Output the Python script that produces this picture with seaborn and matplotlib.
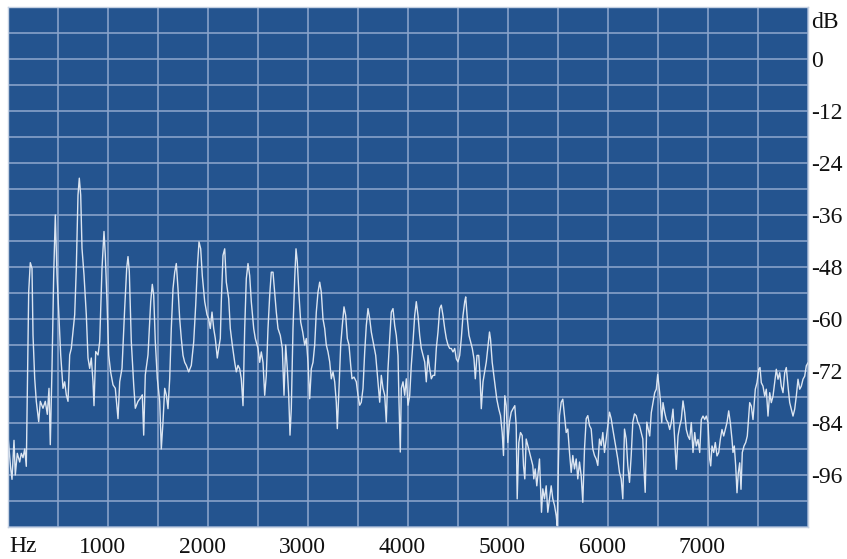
import numpy as np
import pandas as pd
import seaborn as sns
import matplotlib.pyplot as plt
from matplotlib.transforms import ScaledTranslation

# spectrum trace, split into bands (Hz, dB)
hz_band1 = [0, 27, 40, 60, 73, 93, 117, 133, 150, 167,
            183, 193, 207, 223, 240, 250, 267, 283, 307, 323,
            350, 373, 393, 410, 423, 440, 457, 473, 490, 507,
            527, 550, 567, 583, 600, 617, 633, 667, 683, 700,
            713, 727, 740, 760, 783, 800, 817, 833, 850, 860,
            877, 900, 917, 940, 960, 973, 990, 1007, 1027, 1050,
            1073, 1100, 1117, 1140, 1167, 1187, 1200, 1213, 1233, 1257,
            1273, 1300, 1323, 1343, 1357, 1373, 1400, 1427, 1443, 1457,
            1473, 1493, 1517, 1533, 1550, 1567, 1583]
db_band1 = [-87, -94.5, -97, -88, -96, -91, -93, -91, -92, -90,
            -94, -77.5, -53.7, -47, -48.3, -63.7, -73.7, -79, -83.7, -79,
            -80.6, -79, -82, -76, -89, -71.4, -49.8, -36, -49.8, -58.3,
            -68.3, -76, -74.5, -77.5, -79, -68.3, -66.8, -59, -48.3, -31.4,
            -27.5, -31.4, -43.7, -49.8, -59, -69, -71.4, -69, -74.5, -80,
            -67.5, -68.3, -65.2, -48.3, -39.8, -45.2, -56, -68.3, -72.3, -75.2,
            -76, -83, -74.5, -71.4, -57.5, -48.3, -45.6, -49, -65.2, -75.2,
            -80.6, -79, -78.3, -77.5, -86.8, -72.9, -68.3, -56, -52, -54.5,
            -65.2, -73.7, -79, -90, -83.7, -76, -77.5]

hz_band2 = [1600, 1617, 1633, 1650, 1667, 1683, 1700, 1717, 1733, 1750,
            1767, 1783, 1807, 1833, 1857, 1877, 1893, 1910, 1927, 1943,
            1967, 1990, 2007, 2023, 2040, 2057, 2073, 2093, 2107, 2123,
            2133, 2150, 2167, 2183, 2207, 2223, 2243, 2267, 2283, 2300,
            2317, 2333, 2350, 2367, 2383, 2400, 2417, 2433, 2457, 2473,
            2500, 2517, 2533, 2550, 2567, 2583, 2600, 2617, 2633, 2650,
            2667, 2683, 2700, 2723, 2743, 2760, 2777, 2793, 2807, 2820,
            2833, 2850, 2867, 2880, 2893, 2910, 2927, 2947, 2967, 2983,
            3000, 3017, 3033, 3050, 3067, 3083, 3100, 3117, 3133, 3150,
            3167, 3183]
db_band2 = [-80.7, -73.8, -62.2, -53, -49.2, -47.2, -53, -60, -64.5, -68.4,
            -70, -70.7, -72.2, -70.7, -65.3, -56.8, -48.4, -42.2, -43.8, -50,
            -56, -59, -60, -62.2, -58.4, -62.2, -64.5, -69, -66.8, -64.5,
            -56, -45.3, -43.8, -51.5, -55.3, -62.2, -66, -70, -72.2, -70.7,
            -71.5, -73.8, -80, -62.2, -50.7, -47.2, -50, -56, -62.2, -64.5,
            -66.8, -70, -67.6, -70, -77.6, -73, -62.2, -54.5, -49.2, -49.2,
            -53.8, -58.4, -62.2, -63.8, -66.8, -77.6, -66, -71.5, -77.6, -86.8,
            -80.7, -62.2, -50.7, -43.8, -46.8, -54.5, -60.7, -63, -66, -64.5,
            -70, -78.4, -71.5, -70, -66, -58.4, -53.8, -51.5, -53.8, -60,
            -62.2, -66]

hz_band3 = [3200, 3217, 3233, 3250, 3267, 3283, 3293, 3310, 3327, 3343,
            3360, 3377, 3393, 3410, 3427, 3440, 3460, 3483, 3500, 3517,
            3533, 3550, 3567, 3583, 3600, 3617, 3633, 3657, 3677, 3700,
            3717, 3733, 3750, 3767, 3783, 3800, 3817, 3833, 3850, 3867,
            3883, 3900, 3910, 3923, 3933, 3950, 3967, 3983, 4000, 4017,
            4033, 4050, 4067, 4083, 4100, 4117, 4133, 4150, 4167, 4183,
            4200, 4217, 4233, 4250, 4267, 4283, 4300, 4317, 4333, 4350,
            4367, 4383, 4400, 4417, 4433, 4450, 4467, 4483, 4500, 4517,
            4533, 4550, 4567, 4577, 4593, 4610, 4627, 4643, 4660, 4673,
            4690, 4707, 4720, 4733, 4750, 4767, 4783]
db_band3 = [-67.6, -69.9, -73.8, -72.2, -74.5, -79.2, -85.3, -76, -66, -61.5,
            -57.2, -59.2, -64.5, -66, -70.7, -73.8, -73.4, -74.5, -77.6, -79.9,
            -79.2, -76, -67.6, -61.5, -57.6, -59.9, -63, -66, -68.4, -74.5,
            -79.2, -73, -76, -77.6, -83.8, -71.5, -64.5, -58.4, -57.6, -61.5,
            -63.8, -68.4, -79.2, -90.7, -76, -74.5, -77.6, -73.8, -79.9, -77.6,
            -70.7, -65.3, -59.2, -56, -59.2, -63.8, -66.8, -68.4, -69.9, -74.5,
            -68.4, -71.5, -73.8, -73, -73, -66.8, -63, -57.6, -56.8, -59.2,
            -62.2, -64.5, -66, -66.8, -66.8, -67.6, -66.8, -69.2, -69.9, -68.4,
            -64.5, -59.2, -56, -54.9, -59.9, -63.8, -65.3, -66.8, -69.2, -73.8,
            -68.4, -68.4, -73, -80.7, -74.5, -72.2, -69.9]

hz_band4 = [4815, 4825, 4842, 4858, 4875, 4888, 4908, 4925, 4942, 4955,
            4968, 4982, 4998, 5015, 5032, 5048, 5068, 5082, 5092, 5108,
            5125, 5142, 5155, 5168, 5182, 5198, 5215, 5232, 5248, 5258,
            5272, 5288, 5302, 5315, 5325, 5335, 5348, 5365, 5382, 5398,
            5415, 5432, 5448, 5465, 5482, 5492, 5505, 5515, 5532, 5548,
            5565, 5582, 5598, 5615, 5632, 5648, 5665, 5682, 5698, 5715,
            5732, 5748, 5765, 5782, 5798, 5815, 5832, 5848, 5865, 5882,
            5898, 5915, 5932, 5948, 5965, 5982, 5998, 6015, 6032, 6048,
            6065, 6082, 6098, 6115, 6132, 6148, 6165, 6182, 6198, 6215,
            6232, 6248, 6265, 6282, 6298, 6315, 6332, 6348, 6358, 6372,
            6388]
db_band4 = [-63, -64.6, -70, -73, -76.2, -78.5, -80.8, -82.3, -86.2, -91.5,
            -77.7, -80, -88.5, -83.8, -81.5, -80.8, -80, -84.6, -101.5, -88.5,
            -86.2, -86.9, -93.8, -96.9, -87.7, -89.2, -90.8, -92.3, -93.8, -96.9,
            -94.6, -98.5, -95.4, -92.3, -98.5, -104.6, -99.2, -101.5, -98.5, -104.6,
            -101.5, -98.5, -101.5, -103, -105.4, -107.7, -92.3, -82.3, -79.2, -78.5,
            -82.3, -86.2, -85.4, -90.8, -95.4, -91.5, -94.6, -92.3, -96.9, -93,
            -96.2, -102.3, -90, -83, -82.3, -84.6, -85.4, -90, -91.5, -92.3,
            -93.8, -87.7, -89.2, -86.2, -90.8, -87.7, -84.6, -81.5, -83, -85.4,
            -87.7, -90, -92.3, -95.4, -96.9, -101.5, -85.4, -87.7, -93.8, -97.7,
            -91.5, -83.8, -81.9, -82.3, -83.8, -84.6, -86.2, -87.7, -93.8, -100,
            -83.8]

hz_band5 = [6417, 6433, 6450, 6467, 6483, 6497, 6510, 6523, 6537, 6550,
            6567, 6583, 6600, 6617, 6633, 6650, 6667, 6683, 6700, 6717,
            6733, 6750, 6767, 6783, 6800, 6817, 6833, 6850, 6867, 6883,
            6900, 6917, 6933, 6950, 6967, 6983, 7000, 7017, 7027, 7040,
            7057, 7073, 7090, 7107, 7123, 7140, 7157, 7173, 7190, 7207,
            7223, 7240, 7250, 7263, 7277, 7290, 7303, 7317, 7330, 7343,
            7360, 7377, 7393, 7407, 7417, 7433, 7450, 7460, 7473, 7490,
            7507, 7520, 7533, 7550, 7567, 7583, 7600, 7617, 7633, 7650,
            7667, 7683, 7700, 7717, 7733, 7750, 7767, 7783, 7800, 7817,
            7833, 7850, 7867, 7883, 7900, 7917, 7933, 7950, 7967, 7983,
            8000]
db_band5 = [-87, -81.6, -79.3, -77, -76.2, -72.8, -75.5, -78.5, -83.9, -79.3,
            -81.6, -83.2, -83.9, -85.5, -83.9, -80.8, -87.8, -94.7, -87, -84.7,
            -83.2, -78.9, -81.6, -85.5, -87, -87.8, -83.9, -90.8, -86.2, -89.3,
            -87.8, -90.8, -83.2, -82.4, -83.2, -82.4, -83.9, -92.4, -93.9, -89.3,
            -90.8, -88.5, -91.6, -90.8, -87.8, -85.5, -87, -85.5, -83.9, -81.2,
            -83.9, -87.8, -90.8, -89.3, -93.9, -100.1, -95.5, -93.2, -99.3, -90.8,
            -89.3, -88.5, -87, -82.4, -79.3, -80.1, -83.2, -80.1, -76.2, -74.7,
            -71.6, -71.2, -74.7, -75.5, -77.8, -76.2, -82.4, -77, -79.3, -77.8,
            -74.7, -71.6, -73.9, -72.4, -75.5, -77, -72.4, -71.2, -75.5, -79.3,
            -80.8, -82.4, -80.8, -77.8, -73.9, -76.2, -75.5, -73.9, -73.2, -70.8,
            -70.1]

x_labels = ["1000", "2000", "3000", "4000", "5000", "6000", "7000"]
y_labels = ["dB", "0", "-12", "-24", "-36", "-48", "-60", "-72", "-84", "-96"]

hz = hz_band1 + hz_band2 + hz_band3 + hz_band4 + hz_band5
db = db_band1 + db_band2 + db_band3 + db_band4 + db_band5
assert len(hz) == len(db)
df = pd.DataFrame({"hz": hz, "db": db})

sns.set_theme(style="dark")
plt.rcParams["font.family"] = ["Liberation Serif", "DejaVu Serif"]

fig = plt.figure(figsize=(8.47, 5.59), dpi=100)
ax = fig.add_axes([8 / 847, 32 / 559, 800 / 847, 520 / 559])
ax.set_facecolor("#24548f")

sns.lineplot(data=df, x="hz", y="db", ax=ax, color="#dce5f1",
             linewidth=1.0, sort=False, estimator=None)

ax.set_xlim(0, 8000)
ax.set_ylim(-108, 12)

# grid every 500 Hz / 6 dB, keep minor lines under the labelled ticks too
ax.xaxis.remove_overlapping_locs = False
ax.yaxis.remove_overlapping_locs = False
ax.set_xticks(np.arange(0, 8001, 500), minor=True)
ax.set_yticks(np.arange(-108, 13, 6), minor=True)
ax.grid(which="minor", color="#87a2c9", linewidth=1.2)
ax.grid(which="major", visible=False)

ax.set_xticks(np.arange(1000, 7001, 1000))
ax.set_xticklabels(x_labels)
ax.set_yticks([9] + list(range(0, -97, -12)))
ax.set_yticklabels(y_labels)
ax.yaxis.tick_right()
ax.tick_params(which="both", length=0, labelsize=17, colors="#111111")
ax.tick_params(axis="x", pad=7)
ax.tick_params(axis="y", pad=2)
for lbl in ax.get_xticklabels():
    lbl.set_transform(lbl.get_transform() + ScaledTranslation(-0.06, 0, fig.dpi_scale_trans))
ax.text(0.002, -0.018, "Hz", transform=ax.transAxes, ha="left", va="top",
        fontsize=17, color="#111111")
ax.set_xlabel("")
ax.set_ylabel("")
for s in ax.spines.values():
    s.set_visible(True)
    s.set_color("#c5d1e2")
    s.set_linewidth(1.0)

fig.savefig("out.png", dpi=100, facecolor="white")
